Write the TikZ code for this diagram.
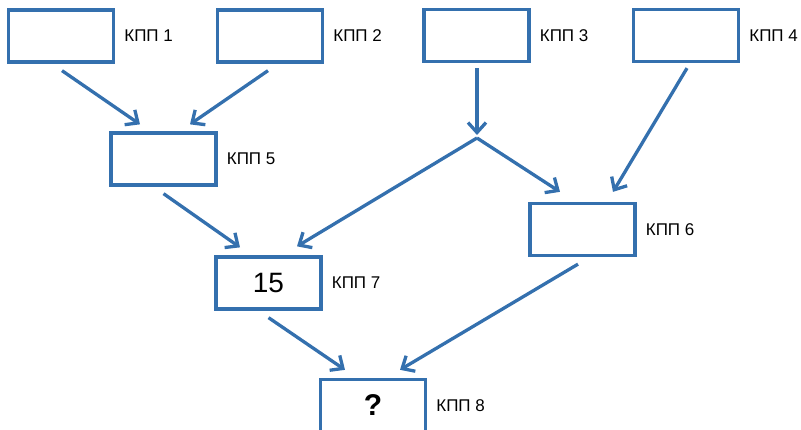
\documentclass[tikz,border=0pt]{standalone}
\usepackage{fontspec}
\setmainfont{Liberation Sans}
\usetikzlibrary{arrows.meta,positioning,calc}
\definecolor{kppblue}{HTML}{3470AE}

\begin{document}
\begin{tikzpicture}[x=1pt,y=-1pt,
	kpp/.style={draw=kppblue,line width=3.3pt,minimum width=105pt,minimum height=52pt,inner sep=0pt},
	kpplabel/.style={inner sep=0pt,font=\fontsize{17}{20}\selectfont},
	link/.style={draw=kppblue,line width=3.3pt,-{Straight Barb[length=10pt,width=18pt]}}]
	\useasboundingbox (0,0) rectangle (801,430);
	\clip (0,0) rectangle (801,430);
	\node[kpp] (b1) at (61,36) {};
	\node[kpp] (b2) at (270,36) {};
	\node[kpp] (b3) at (476.5,35.5) {};
	\node[kpp] (b4) at (686,35.5) {};
	\node[kpp] (b5) at (163.5,159) {};
	\node[kpp] (b6) at (582.5,229.5) {};
	\node[kpp,font=\fontsize{28}{32}\selectfont] (b7) at (268.5,283) {15};
	\node[kpp,font=\fontsize{30}{34}\selectfont\bfseries] (b8) at (373,405.5) {?};
	\node[kpplabel,right=9pt of b1] (l1) {КПП 1};
	\node[kpplabel,right=9pt of b2] (l2) {КПП 2};
	\node[kpplabel,right=9pt of b3] (l3) {КПП 3};
	\node[kpplabel,right=9pt of b4] (l4) {КПП 4};
	\node[kpplabel,right=9pt of b5] (l5) {КПП 5};
	\node[kpplabel,right=9pt of b6] (l6) {КПП 6};
	\node[kpplabel,right=9pt of b7] (l7) {КПП 7};
	\node[kpplabel,right=9pt of b8] (l8) {КПП 8};
	\coordinate (j) at (477,138);
	\draw[link] ($(b1.south)+(1,7)$) -- ($(b5.north)+(-23.5,-7)$);
	\draw[link] ($(b2.south)+(-2,7)$) -- ($(b5.north)+(26.5,-7)$);
	\draw[link] ($(b3.south)+(0.5,5)$) -- ($(j)+(0,-3)$);
	\draw[link] (j) -- ($(b7.north)+(28.5,-9)$);
	\draw[link] (j) -- ($(b6.north)+(-22.5,-10)$);
	\draw[link] ($(b4.south)+(1,5)$) -- ($(b6.north)+(30.5,-10)$);
	\draw[link] ($(b5.south)+(0,7)$) -- ($(b7.north)+(-28.5,-8)$);
	\draw[link] ($(b7.south)+(0,7)$) -- ($(b8.north)+(-28,-8)$);
	\draw[link] ($(b6.south)+(-4.5,7)$) -- ($(b8.north)+(27,-8)$);
\end{tikzpicture}
\end{document}
